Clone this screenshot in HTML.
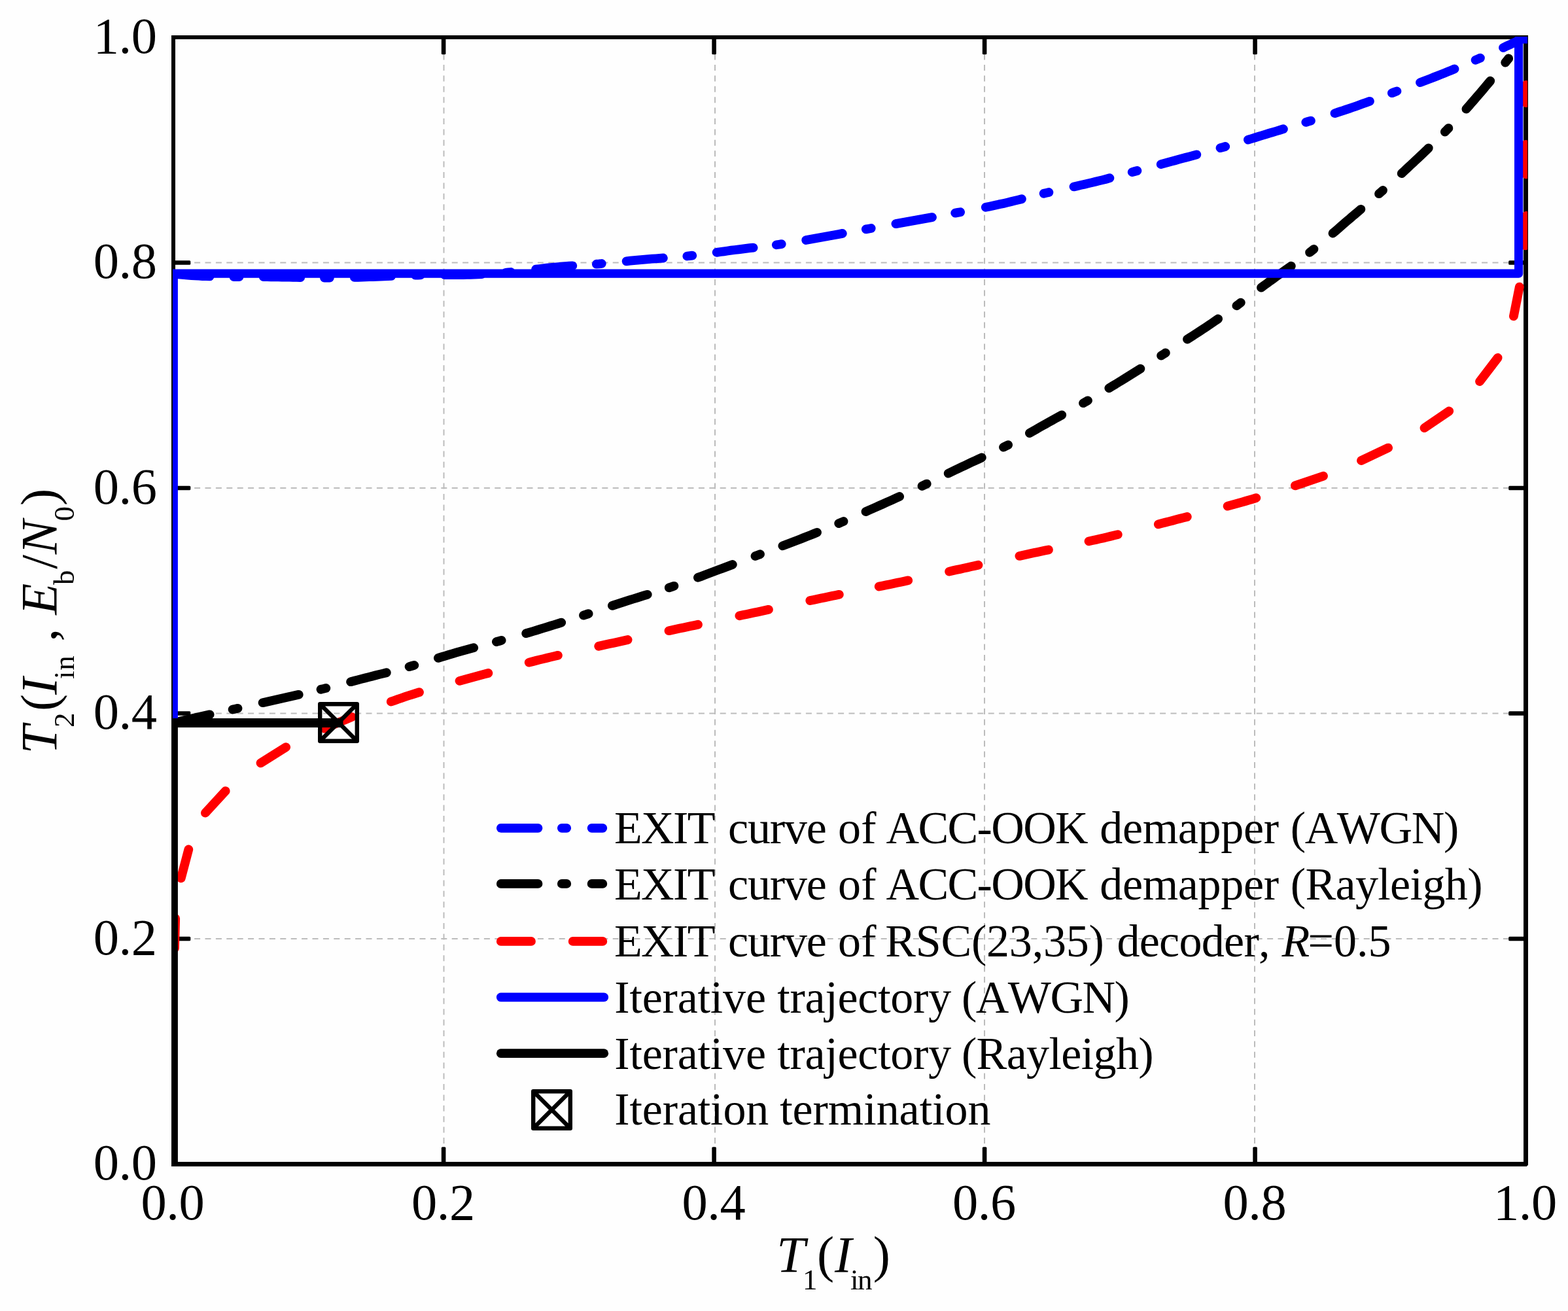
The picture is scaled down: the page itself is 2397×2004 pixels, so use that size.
<!DOCTYPE html>
<html lang="en"><head><meta charset="utf-8"><title>EXIT chart</title>
<style>html,body{margin:0;padding:0;background:#fefefe}body{width:2397px;height:2004px}svg{display:block}</style>
</head><body>
<svg width="2397" height="2004" viewBox="0 0 2397 2004" font-family="'Liberation Serif', 'Times New Roman', serif" fill="#000" style="font-kerning:none">
<rect width="2397" height="2004" fill="#fefefe"/>
<defs><clipPath id="clip"><rect x="264" y="56" width="2071" height="1726"/></clipPath></defs>
<g fill="none" stroke="#bcbcbc" stroke-width="2" stroke-dasharray="9 7.4"><path d="M678.5,1779.5V57M1093,1779.5V57M1505,1779.5V57M1918,1779.5V57" stroke-dashoffset="1.3"/><path d="M264.3,1435H2332M264.3,1090.5H2332M264.3,746H2332M264.3,401.5H2332"/></g>
<path d="M262,54H2336V1780.8L2333.8,1783H262ZM268,60V1776H2329V60Z" fill-rule="evenodd"/>
<g><rect x="265" y="1431.7" width="26.3" height="6.6" rx="1.6"/><rect x="2306.2" y="1431.7" width="26.3" height="6.6" rx="1.6"/><rect x="674.8" y="57" width="6.6" height="26.3" rx="1.6"/><rect x="674.8" y="1753.2" width="6.6" height="26.3" rx="1.6"/><rect x="265" y="1087.2" width="26.3" height="6.6" rx="1.6"/><rect x="2306.2" y="1087.2" width="26.3" height="6.6" rx="1.6"/><rect x="1088.3" y="57" width="6.6" height="26.3" rx="1.6"/><rect x="1088.3" y="1753.2" width="6.6" height="26.3" rx="1.6"/><rect x="265" y="742.7" width="26.3" height="6.6" rx="1.6"/><rect x="2306.2" y="742.7" width="26.3" height="6.6" rx="1.6"/><rect x="1501.8" y="57" width="6.6" height="26.3" rx="1.6"/><rect x="1501.8" y="1753.2" width="6.6" height="26.3" rx="1.6"/><rect x="265" y="398.2" width="26.3" height="6.6" rx="1.6"/><rect x="2306.2" y="398.2" width="26.3" height="6.6" rx="1.6"/><rect x="1915.3" y="57" width="6.6" height="26.3" rx="1.6"/><rect x="1915.3" y="1753.2" width="6.6" height="26.3" rx="1.6"/></g>
<g clip-path="url(#clip)" fill="none" stroke-linecap="round" stroke-linejoin="round" stroke-width="13.8">
<path d="M495.9,1113.6L501.1,1111.4L506.3,1109.2L511.6,1107.0L516.8,1104.7L522.1,1102.5L527.3,1100.4L532.6,1098.2L537.8,1096.0M597.8,1072.6L603.2,1070.7L608.5,1068.8L613.9,1067.0L619.3,1065.1L624.7,1063.3L630.1,1061.6L635.5,1059.9L641.0,1058.2M702.5,1040.8L708.0,1039.3L713.4,1037.8L718.9,1036.3L724.4,1034.9L729.9,1033.4L735.4,1031.9L740.9,1030.4L746.4,1029.0M808.7,1012.6L814.2,1011.2L819.7,1009.8L825.2,1008.4L830.7,1007.1L836.3,1005.7L841.8,1004.4L847.3,1003.1L852.9,1001.8M915.2,987.8L920.8,986.5L926.3,985.3L931.9,984.1L937.4,982.9L943.0,981.7L948.5,980.5L954.1,979.2L959.6,978.0M1022.5,964.2L1028.1,963.0L1033.6,961.8L1039.2,960.6L1044.8,959.4L1050.3,958.2L1055.9,957.1L1061.4,955.9L1067.0,954.7M1130.4,941.3L1136.0,940.1L1141.6,939.0L1147.1,937.8L1152.7,936.6L1158.2,935.4L1163.8,934.2L1169.4,933.0L1174.9,931.8M1238.3,918.1L1243.8,916.9L1249.4,915.7L1255.0,914.6L1260.5,913.4L1266.1,912.3L1271.7,911.1L1277.3,910.0L1282.8,908.8M1343.7,896.6L1349.2,895.5L1354.8,894.3L1360.4,893.2L1366.0,892.0L1371.5,890.8L1377.1,889.7L1382.7,888.5L1388.2,887.3M1451.1,873.6L1456.6,872.3L1462.2,871.1L1467.7,869.9L1473.3,868.6L1478.9,867.4L1484.4,866.1L1490.0,864.9L1495.5,863.7M1558.4,849.9L1563.9,848.7L1569.5,847.5L1575.1,846.3L1580.6,845.1L1586.2,843.9L1591.7,842.8L1597.3,841.6L1602.9,840.4M1664.5,827.4L1670.0,826.1L1675.6,824.9L1681.1,823.6L1686.7,822.4L1692.2,821.1L1697.8,819.7L1703.3,818.4L1708.8,817.1M1770.8,801.4L1776.3,799.9L1781.8,798.5L1787.3,797.1L1792.8,795.7L1798.3,794.2L1803.8,792.8L1809.3,791.4L1814.8,790.0M1876.6,773.7L1882.1,772.2L1887.6,770.7L1893.0,769.1L1898.5,767.6L1904.0,766.0L1909.4,764.4L1914.9,762.8L1920.3,761.1M2331.7,375.4L2332.0,369.7L2332.2,364.0L2332.4,358.3L2332.5,352.6L2332.6,346.9L2332.7,341.3L2332.8,335.6L2332.9,329.9M2332.7,266.4L2332.6,260.8L2332.6,255.1L2332.5,249.4L2332.5,243.7L2332.5,238.0L2332.4,232.3L2332.4,226.6L2332.4,220.9M276.7,1342.4L288.3,1298.4M313.9,1242.6L344.7,1209.1M398.5,1166.4L437.1,1142.2M1979.9,742.4L2023.0,727.7M2081.0,704.1L2122.1,684.6M2177.5,654.1L2215.2,628.5M2262.0,583.1L2289.6,547.0M2313.9,483.3L2322.8,438.6M2332.5,157.2V129.8M268.2,1404L267,1449.5" stroke="#ff0000"/>
<path d="M265.0,418.5L270.6,419.1L276.1,419.6L281.7,420.1L287.2,420.6L292.8,421.0L298.3,421.4L303.9,421.7L309.5,422.0L315.0,422.2L320.6,422.4M357.5,423.0L361.5,423.0L365.5,423.0M402.8,423.2L408.5,423.2L414.1,423.3L419.8,423.4L425.4,423.4L431.1,423.5L436.7,423.6L442.4,423.7L448.0,423.8L453.6,423.9L459.3,424.0M495.9,424.5L499.9,424.5L503.9,424.5M541.8,423.9L547.5,423.8L553.1,423.6L558.8,423.4L564.4,423.2L570.1,423.0L575.7,422.8L581.3,422.5L587.0,422.3L592.6,422.1L598.3,421.8M634.8,420.6L638.8,420.5L642.8,420.4M679.7,420.2L685.4,420.2L691.0,420.2L696.7,420.1L702.3,420.1L708.0,420.0L713.6,419.9L719.3,419.8L724.9,419.6L730.6,419.4L736.2,419.2M773.1,416.8L777.0,416.4L781.0,416.0M819.1,411.7L824.7,411.0L830.3,410.4L835.9,409.7L841.6,409.1L847.2,408.6L852.8,408.1L858.4,407.6L864.1,407.2L869.7,406.7L875.3,406.3M911.8,403.7L915.8,403.4L919.8,403.0M957.6,399.3L963.2,398.7L968.8,398.2L974.4,397.6L980.1,397.1L985.7,396.6L991.3,396.1L996.9,395.7L1002.6,395.3L1008.2,394.9L1013.9,394.5M1050.3,391.5L1054.3,391.1L1058.3,390.7M1095.6,385.8L1101.2,385.0L1106.7,384.3L1112.3,383.5L1117.9,382.7L1123.5,382.0L1129.1,381.3L1134.8,380.6L1140.4,379.9L1146.0,379.2L1151.6,378.6M1186.8,374.3L1190.8,373.7L1194.7,373.1M1232.2,367.0L1237.8,366.0L1243.3,365.0L1248.9,364.0L1254.5,363.0L1260.0,362.0L1265.6,361.0L1271.1,360.0L1276.7,359.0L1282.3,357.9L1287.8,356.9M1323.8,350.4L1327.7,349.7L1331.7,349.0M1369.4,342.1L1374.9,341.1L1380.5,340.1L1386.0,339.1L1391.6,338.1L1397.2,337.1L1402.7,336.1L1408.3,335.1L1413.8,334.1L1419.4,333.1L1425.0,332.1M1460.2,325.6L1464.2,324.9L1468.1,324.2M1506.8,316.8L1512.3,315.7L1517.9,314.5L1523.4,313.3L1528.9,312.1L1534.4,310.9L1539.9,309.6L1545.4,308.3L1550.9,306.9L1556.4,305.6L1561.9,304.2M1595.6,295.8L1599.5,294.9L1603.4,294.0M1641.5,285.4L1647.0,284.2L1652.5,282.9L1658.0,281.7L1663.5,280.4L1669.0,279.1L1674.5,277.8L1680.0,276.4L1685.5,275.1L1691.0,273.7L1696.4,272.2M1730.7,263.1L1734.6,262.0L1738.4,261.0M1774.7,251.1L1780.2,249.6L1785.6,248.1L1791.1,246.6L1796.5,245.2L1802.0,243.7L1807.5,242.2L1812.9,240.8L1818.4,239.3L1823.8,237.8L1829.3,236.3M1865.5,226.2L1869.4,225.1L1873.2,224.0M1907.9,213.6L1913.3,212.0L1918.7,210.3L1924.1,208.7L1929.5,207.0L1934.9,205.4L1940.3,203.7L1945.7,202.1L1951.1,200.5L1956.5,198.8L1961.9,197.2M1996.3,186.9L2000.1,185.7L2003.9,184.6M2040.5,173.2L2045.9,171.4L2051.3,169.7L2056.6,167.9L2062.0,166.1L2067.3,164.3L2072.7,162.4L2078.0,160.5L2083.3,158.6L2088.6,156.7L2093.9,154.8M2127.9,142.2L2131.6,140.8L2135.4,139.4M2171.0,126.1L2176.2,124.1L2181.5,122.1L2186.8,120.1L2192.1,118.0L2197.3,116.0L2202.6,113.9L2207.8,111.8L2213.1,109.7L2218.3,107.6L2223.5,105.4M2255.6,91.8L2259.2,90.2L2262.9,88.6M2298.0,72.9L2302.9,70.6L2307.8,68.4L2312.8,66.1L2317.7,63.8L2322.6,61.5L2327.6,59.3L2332.5,57.0" stroke="#0000ff"/>
<path d="M265.5,1104.9L271.0,1103.6L276.5,1102.3L282.0,1101.0L287.5,1099.8L293.0,1098.5L298.5,1097.2L304.0,1096.0L309.5,1094.8L315.1,1093.5L320.6,1092.3M355.6,1084.5L359.5,1083.7L363.5,1082.8M401.6,1074.2L407.1,1073.0L412.6,1071.7L418.1,1070.5L423.6,1069.2L429.1,1068.0L434.6,1066.8L440.1,1065.5L445.7,1064.3L451.2,1063.0L456.7,1061.8M490.5,1053.8L494.4,1052.9L498.3,1051.9M536.1,1042.2L541.6,1040.8L547.0,1039.3L552.5,1037.9L558.0,1036.5L563.4,1035.1L568.9,1033.7L574.4,1032.3L579.9,1030.9L585.3,1029.6L590.8,1028.2M625.6,1019.1L629.4,1018.0L633.3,1016.9M669.9,1005.9L675.3,1004.2L680.7,1002.6L686.1,1000.9L691.5,999.3L697.0,997.7L702.4,996.2L707.8,994.7L713.3,993.2L718.7,991.7L724.2,990.2M758.9,981.0L762.8,980.0L766.6,978.9M804.2,968.2L809.6,966.6L815.0,965.0L820.4,963.3L825.8,961.7L831.2,960.0L836.6,958.4L842.0,956.7L847.4,955.0L852.8,953.3L858.2,951.6M892.0,940.6L895.8,939.4L899.6,938.1M935.9,925.9L941.2,924.1L946.6,922.4L952.0,920.6L957.3,918.9L962.7,917.2L968.1,915.5L973.5,913.8L978.9,912.1L984.3,910.4L989.7,908.8M1022.8,898.3L1026.6,897.1L1030.4,895.8M1066.9,882.8L1072.1,880.9L1077.4,878.9L1082.7,876.9L1088.0,874.9L1093.3,872.9L1098.6,870.9L1103.9,869.0L1109.2,867.0L1114.5,865.0L1119.8,863.0M1154.5,850.0L1158.2,848.6L1162.0,847.2M1196.4,834.4L1201.7,832.4L1207.0,830.4L1212.2,828.4L1217.5,826.4L1222.8,824.3L1228.0,822.3L1233.3,820.2L1238.6,818.1L1243.8,816.0L1249.0,813.9M1282.2,800.1L1285.9,798.5L1289.5,797.0M1323.5,782.1L1328.7,779.8L1333.9,777.5L1339.0,775.2L1344.2,772.9L1349.4,770.6L1354.5,768.3L1359.7,766.0L1364.8,763.7L1370.0,761.3L1375.1,759.0M1409.5,743.0L1413.1,741.3L1416.7,739.6M1449.7,723.6L1454.8,721.1L1459.9,718.6L1465.0,716.2L1470.1,713.8L1475.2,711.4L1480.3,709.0L1485.4,706.6L1490.6,704.2L1495.7,701.9L1500.8,699.5M1534.0,683.7L1537.5,681.9L1541.1,680.1M1573.9,662.0L1578.8,659.2L1583.7,656.4L1588.7,653.6L1593.6,650.8L1598.5,648.1L1603.4,645.3L1608.3,642.6L1613.3,639.8L1618.2,637.1L1623.2,634.4M1656.0,616.2L1659.5,614.3L1663.0,612.3M1695.3,593.3L1700.1,590.4L1705.0,587.5L1709.8,584.5L1714.6,581.6L1719.4,578.6L1724.2,575.6L1729.0,572.6L1733.8,569.6L1738.6,566.6L1743.4,563.6M1775.1,543.6L1778.5,541.5L1781.8,539.4M1815.0,518.6L1819.7,515.6L1824.5,512.6L1829.2,509.5L1834.0,506.4L1838.7,503.3L1843.4,500.2L1848.1,497.1L1852.8,493.9L1857.4,490.7L1862.1,487.5M1890.4,467.3L1893.6,465.0L1896.8,462.6M1928.0,439.6L1932.5,436.3L1937.1,433.0L1941.6,429.6L1946.2,426.3L1950.8,423.0L1955.4,419.7L1960.0,416.5L1964.6,413.2L1969.2,409.9L1973.8,406.7M2002.1,385.9L2005.3,383.4L2008.4,380.9M2037.5,356.6L2041.8,352.9L2046.1,349.2L2050.3,345.5L2054.6,341.8L2058.9,338.1L2063.2,334.5L2067.4,330.8L2071.8,327.1L2076.1,323.5L2080.4,319.8M2108.0,296.2L2111.0,293.6L2114.0,291.0M2142.7,265.1L2146.9,261.2L2151.0,257.4L2155.1,253.5L2159.3,249.7L2163.4,245.8L2167.5,241.9L2171.6,238.1L2175.7,234.2L2179.8,230.3L2183.8,226.3M2208.8,201.6L2211.6,198.7L2214.4,195.9M2241.4,166.6L2245.2,162.4L2248.9,158.1L2252.6,153.9L2256.3,149.6L2260.0,145.3L2263.7,141.0L2267.3,136.7L2270.9,132.4L2274.6,128.0L2278.2,123.7M2301.2,95.6L2303.7,92.5L2306.2,89.4" stroke="#000"/>
<path d="M265.3,1105V418.15H2321.6V60H2340" stroke="#0000ff" stroke-width="13.2" stroke-linecap="butt"/>
<path d="M265,1779.5V1105H524.5" stroke="#000" stroke-linecap="butt" stroke-linejoin="miter"/>
</g>
<path d="M489.2,1076.2h56.6v56.6h-56.6ZM489.2,1076.2l56.6,56.6M545.8,1076.2l-56.6,56.6" fill="none" stroke="#000" stroke-width="6.4" stroke-linejoin="round"/>
<g fill="none" stroke-linecap="round" stroke-width="13.8">
<path d="M765.8,1265.8H921.3" stroke="#0000ff" stroke-dasharray="56.7 36.3 7.4 38.4"/>
<path d="M765.8,1350.9H921.3" stroke="#000" stroke-dasharray="56.7 36.3 7.4 38.4"/>
<path d="M765.8,1438.9H921.3" stroke="#ff0000" stroke-dasharray="46.2 63.7"/>
<path d="M765.8,1524.4H923.2" stroke="#0000ff"/>
<path d="M765.8,1610.2H923.2" stroke="#000"/>
</g>
<path d="M815.2,1668.2h56.6v56.6h-56.6ZM815.2,1668.2l56.6,56.6M871.8,1668.2l-56.6,56.6" fill="none" stroke="#000" stroke-width="6.4" stroke-linejoin="round"/>
<g font-size="70">
<text y="1288.8"><tspan x="938.9" letter-spacing="-1.60">EXIT</tspan> <tspan x="1113.0" letter-spacing="-1.16">curve</tspan> <tspan x="1281.0" letter-spacing="0.26">of</tspan> <tspan x="1354.5" letter-spacing="-1.63">ACC-OOK</tspan> <tspan x="1681.3" letter-spacing="-0.33">demapper</tspan> <tspan x="1972.7" letter-spacing="-1.36">(AWGN)</tspan></text>
<text y="1374.9"><tspan x="938.9" letter-spacing="-1.60">EXIT</tspan> <tspan x="1113.0" letter-spacing="-1.16">curve</tspan> <tspan x="1281.0" letter-spacing="0.26">of</tspan> <tspan x="1354.5" letter-spacing="-1.63">ACC-OOK</tspan> <tspan x="1681.3" letter-spacing="-0.33">demapper</tspan> <tspan x="1972.7" letter-spacing="-0.62">(Rayleigh)</tspan></text>
<text y="1461.8"><tspan x="938.9" letter-spacing="-1.60">EXIT</tspan> <tspan x="1113.0" letter-spacing="-1.16">curve</tspan> <tspan x="1281.0" letter-spacing="0.26">of</tspan> <tspan x="1353.2" letter-spacing="-0.19">RSC(23,35)</tspan> <tspan x="1707.4" letter-spacing="-0.70">decoder,</tspan> <tspan x="1959.6" font-style="italic">R</tspan><tspan x="1999.4" letter-spacing="0.05">=0.5</tspan></text>
<text y="1547.9"><tspan x="939.3" letter-spacing="-0.19">Iterative</tspan> <tspan x="1188.3" letter-spacing="-0.26">trajectory</tspan> <tspan x="1469.9" letter-spacing="-1.48">(AWGN)</tspan></text>
<text y="1634"><tspan x="939.3" letter-spacing="-0.19">Iterative</tspan> <tspan x="1188.3" letter-spacing="-0.26">trajectory</tspan> <tspan x="1469.9" letter-spacing="-0.62">(Rayleigh)</tspan></text>
<text y="1718.7"><tspan x="939.3" letter-spacing="-0.14">Iteration</tspan> <tspan x="1192.2" letter-spacing="-0.05">termination</tspan></text>
</g>
<g font-size="78.5">
<text x="142.7" y="1803.2" letter-spacing="-0.4">0.0</text>
<text x="215.4" y="1864.2" letter-spacing="-0.4">0.0</text>
<text x="142.7" y="1458.7" letter-spacing="-0.4">0.2</text>
<text x="628.9" y="1864.2" letter-spacing="-0.4">0.2</text>
<text x="142.7" y="1114.2" letter-spacing="-0.4">0.4</text>
<text x="1042.4" y="1864.2" letter-spacing="-0.4">0.4</text>
<text x="142.7" y="769.7" letter-spacing="-0.4">0.6</text>
<text x="1455.9" y="1864.2" letter-spacing="-0.4">0.6</text>
<text x="142.7" y="425.2" letter-spacing="-0.4">0.8</text>
<text x="1869.4" y="1864.2" letter-spacing="-0.4">0.8</text>
<text x="142.7" y="80.7" letter-spacing="-0.4">1.0</text>
<text x="2282.9" y="1864.2" letter-spacing="-0.4">1.0</text>
</g>
<g font-size="78.5">
<text><tspan x="1187.3" y="1943.8" font-style="italic">T</tspan><tspan x="1227.1" y="1970.5" font-size="45">1</tspan><tspan x="1248.9" y="1943.8">(</tspan><tspan x="1276.1" y="1943.8" font-style="italic">I</tspan><tspan x="1300.1" y="1970.5" font-size="45" letter-spacing="-1.58">in</tspan><tspan x="1334.8" y="1943.8">)</tspan></text>
<text transform="rotate(-90)"><tspan x="-1152.5" y="86.1" font-style="italic">T</tspan><tspan x="-1112.1" y="112.6" font-size="45">2</tspan><tspan x="-1087.0" y="86.1">(</tspan><tspan x="-1062.1" y="86.1" font-style="italic">I</tspan><tspan x="-1038.0" y="112.6" font-size="45" letter-spacing="0.72">in</tspan> <tspan x="-980.4" y="86.1">,</tspan> <tspan x="-939.8" y="86.1" font-style="italic">E</tspan><tspan x="-894.0" y="112.6" font-size="45">b</tspan><tspan x="-869.7" y="86.1">/</tspan><tspan x="-847.3" y="86.1" font-style="italic">N</tspan><tspan x="-796.6" y="112.6" font-size="45">0</tspan><tspan x="-773.0" y="86.1">)</tspan></text>
</g>
</svg>
</body></html>
